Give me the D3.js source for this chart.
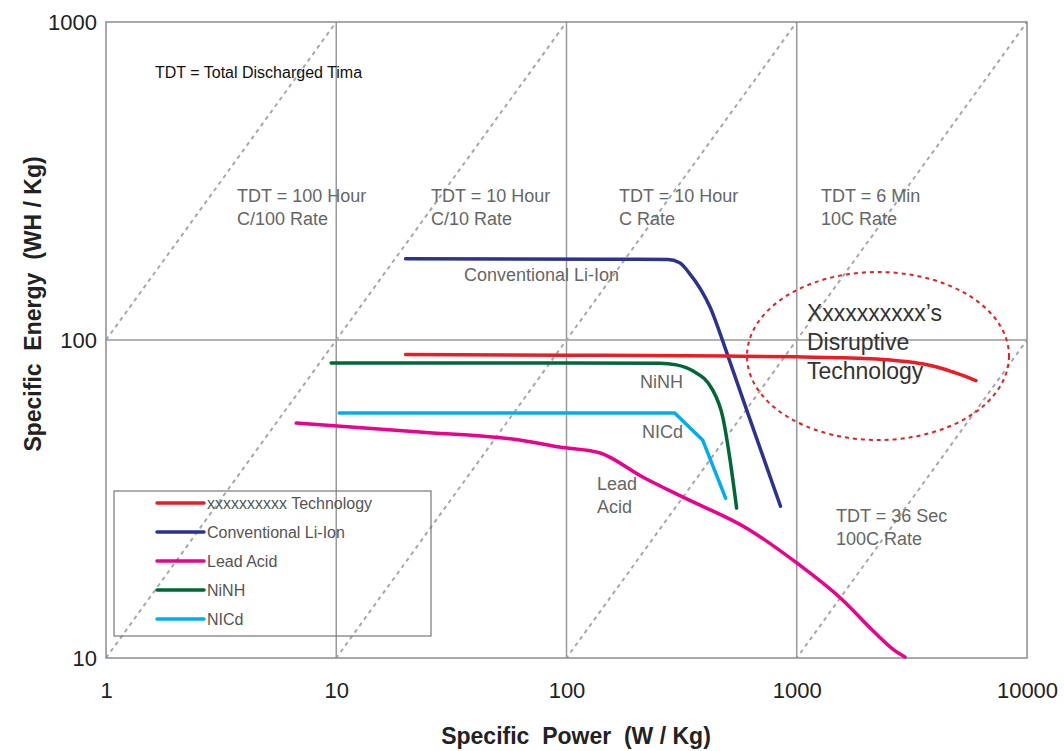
<!DOCTYPE html>
<html><head><meta charset="utf-8">
<script src="https://cdn.jsdelivr.net/npm/d3@7"></script>
<style>
body{margin:0;background:#fff;}
text{font-family:"Liberation Sans",Arial,Helvetica,sans-serif;}
</style></head>
<body><svg id="c" width="1064" height="751"></svg>
<script>
// ---- data ----
const xTicks = [1, 10, 100, 1000, 10000];
const yTicks = [10, 100, 1000];
const tdtHours = [100, 10, 1, 0.1, 0.01];

const techP = [20, 100, 500, 1000, 1500, 2080, 2600, 3100, 3600, 4100, 4770, 5400, 6000];
const techE = [90, 89.6, 89, 88.5, 88, 87.3, 86.4, 85.3, 83.9, 82.1, 79.3, 76.9, 74.5];

const liionP = [20, 150, 275, 310, 340, 420, 500, 600, 850];
const liionE = [180, 179.5, 179, 175, 163, 127, 90, 61.5, 30];

const ninhP = [9.5, 100, 254, 300, 353, 431, 477, 511, 548];
const ninhE = [84.7, 84.7, 84.5, 83.5, 80, 69.7, 57.3, 42.9, 29.6];

const nicdP = [10.3, 100, 295, 390, 491];
const nicdE = [58.9, 58.9, 58.9, 48.5, 31.8];

const leadP = [6.7, 23, 62.5, 93, 139, 214, 319, 606, 1000, 1585, 2138, 2640, 2950];
const leadE = [54.8, 51.4, 48.5, 46.1, 44.2, 37.1, 32.1, 25.6, 19.9, 15.2, 12.2, 10.6, 10.07];

const seriesNames = ["xxxxxxxxxx Technology", "Conventional Li-Ion", "Lead Acid", "NiNH", "NICd"];
const seriesColors = ["#ec1c24", "#2e3192", "#ec008c", "#006838", "#00aeef"];

// ---- layout ----
const L = 106, R = 1027, T = 22, B = 658;
const svg = d3.select("#c");
const x = d3.scaleLog().domain([1, 10000]).range([L, R]);
const y = d3.scaleLog().domain([10, 1000]).range([B, T]);

svg.append("defs").append("clipPath").attr("id", "clip")
  .append("rect").attr("x", L).attr("y", T).attr("width", R - L).attr("height", B - T);

// grid
const grid = svg.append("g").attr("stroke", "#9a9a9a").attr("stroke-width", 1.5);
[10, 100, 1000].forEach(v => grid.append("line").attr("x1", x(v)).attr("x2", x(v)).attr("y1", T).attr("y2", B));
grid.append("line").attr("x1", L).attr("x2", R).attr("y1", y(100)).attr("y2", y(100));

// TDT diagonals
const diag = svg.append("g").attr("clip-path", "url(#clip)");
tdtHours.forEach(t => {
  diag.append("line")
    .attr("x1", x(1)).attr("y1", y(1 * t))
    .attr("x2", x(10000)).attr("y2", y(10000 * t))
    .attr("stroke", "#a8a8a8").attr("stroke-width", 2).attr("stroke-dasharray", "4,4");
});

// frame
svg.append("rect").attr("x", L).attr("y", T).attr("width", R - L).attr("height", B - T)
  .attr("fill", "none").attr("stroke", "#8c8c8c").attr("stroke-width", 1.5);

// axes
const xAxis = d3.axisBottom(x).tickValues(xTicks).tickFormat(d3.format("d")).tickSize(0).tickPadding(0);
const gx = svg.append("g").attr("transform", `translate(0,${B})`).call(xAxis);
gx.select(".domain").remove();
gx.selectAll("text").attr("font-size", 22).attr("fill", "#222").attr("dy", 0).attr("y", 40);

const yAxis = d3.axisLeft(y).tickValues(yTicks).tickFormat(d3.format("d")).tickSize(0).tickPadding(9);
const gy = svg.append("g").attr("transform", `translate(${L},0)`).call(yAxis);
gy.select(".domain").remove();
gy.selectAll("text").attr("font-size", 22).attr("fill", "#222");

// axis titles
svg.append("text").attr("x", 576).attr("y", 744).attr("text-anchor", "middle")
  .attr("font-size", 23).attr("font-weight", "bold").attr("fill", "#222")
  .style("white-space", "pre").text("Specific  Power  (W / Kg)");
svg.append("text").attr("transform", "translate(41,304) rotate(-90)").attr("text-anchor", "middle")
  .attr("font-size", 23).attr("font-weight", "bold").attr("fill", "#222")
  .style("white-space", "pre").text("Specific  Energy  (WH / Kg)");

// ellipse
svg.append("ellipse").attr("cx", 878).attr("cy", 356).attr("rx", 131).attr("ry", 84)
  .attr("fill", "none").attr("stroke", "#ec1c24").attr("stroke-width", 2).attr("stroke-dasharray", "4,4");

// series
const lineGen = d3.line().x(d => x(d[0])).y(d => y(d[1])).curve(d3.curveMonotoneX);
const allP = [techP, liionP, leadP, ninhP, nicdP];
const allE = [techE, liionE, leadE, ninhE, nicdE];
const order = [2, 4, 3, 1, 0];
order.forEach(i => {
  const pts = allP[i].map((p, k) => [p, allE[i][k]]);
  const gen = (i === 4) ? d3.line().x(d => x(d[0])).y(d => y(d[1])) : lineGen;
  svg.append("path").attr("d", gen(pts)).attr("fill", "none")
    .attr("stroke", seriesColors[i]).attr("stroke-width", 3.5).attr("stroke-linecap", "round").attr("stroke-linejoin", "round");
});

// annotation texts
const gray = "#666";
function txt(tx, ty, s, size, col) {
  svg.append("text").attr("x", tx).attr("y", ty).attr("font-size", size).attr("fill", col).text(s);
}
txt(155, 78, "TDT = Total Discharged Tima", 16, "#111");
txt(237, 202, "TDT = 100 Hour", 18, gray); txt(237, 225, "C/100 Rate", 18, gray);
txt(431, 202, "TDT = 10 Hour", 18, gray); txt(431, 225, "C/10 Rate", 18, gray);
txt(619, 202, "TDT = 10 Hour", 18, gray); txt(619, 225, "C Rate", 18, gray);
txt(821, 202, "TDT = 6 Min", 18, gray); txt(821, 225, "10C Rate", 18, gray);
txt(836, 522, "TDT = 36 Sec", 18, gray); txt(836, 545, "100C Rate", 18, gray);
txt(464, 281, "Conventional Li-Ion", 18, gray);
txt(640, 388, "NiNH", 18, gray);
txt(642, 438, "NICd", 18, gray);
txt(597, 490, "Lead", 18, gray); txt(597, 513, "Acid", 18, gray);
txt(807, 321, "Xxxxxxxxxx\u2019s", 23, "#333");
txt(807, 350, "Disruptive", 23, "#333");
txt(807, 379, "Technology", 23, "#333");

// legend
const lg = svg.append("g");
lg.append("rect").attr("x", 114).attr("y", 491).attr("width", 317).attr("height", 145)
  .attr("fill", "none").attr("stroke", "#777").attr("stroke-width", 1.2);
seriesNames.forEach((n, i) => {
  const yy = 503 + i * 29;
  lg.append("line").attr("x1", 157).attr("x2", 204).attr("y1", yy).attr("y2", yy)
    .attr("stroke", seriesColors[i]).attr("stroke-width", 3.5).attr("stroke-linecap", "round");
  lg.append("text").attr("x", 207).attr("y", yy + 5.5).attr("font-size", 16).attr("fill", "#555").text(n);
});
</script></body></html>
